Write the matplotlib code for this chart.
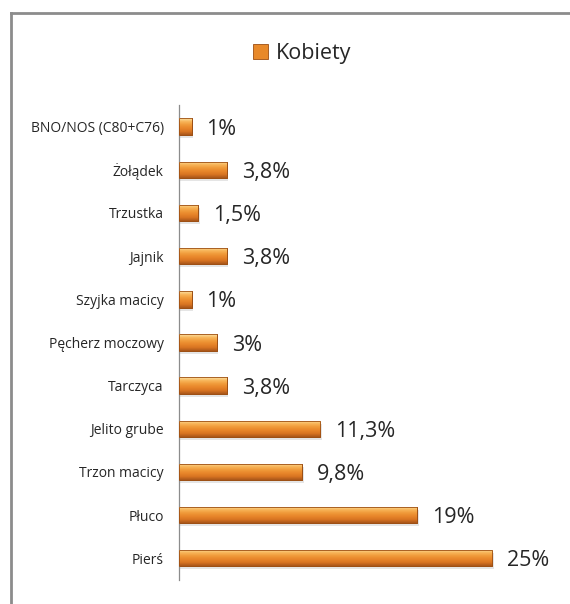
import numpy as np
import matplotlib
matplotlib.use("Agg")
import matplotlib.pyplot as plt
from matplotlib.colors import LinearSegmentedColormap
from matplotlib.lines import Line2D
from matplotlib.patches import Patch

# data (top to bottom as in the picture)
categories = ["BNO/NOS (C80+C76)", "Żołądek", "Trzustka", "Jajnik", "Szyjka macicy",
              "Pęcherz moczowy", "Tarczyca", "Jelito grube", "Trzon macicy", "Płuco", "Pierś"]
values = [1.0, 3.8, 1.5, 3.8, 1.0, 3.0, 3.8, 11.3, 9.8, 19.0, 25.0]
value_labels = ["1%", "3,8%", "1,5%", "3,8%", "1%", "3%", "3,8%", "11,3%", "9,8%", "19%", "25%"]
series_name = "Kobiety"

plt.rcParams["font.family"] = ["Open Sans", "DejaVu Sans"]

fig = plt.figure(figsize=(5.7, 6.04), dpi=100)
ax = fig.add_axes([0.314, 0.040, 0.659, 0.786])

y = np.arange(len(categories))[::-1]
bars = ax.barh(y, values, height=0.38, color="#E8892A", edgecolor="#9C4E12",
               linewidth=0.6, zorder=2)

# bevel-like gradient inside each bar (light at top, dark at bottom)
bevel = LinearSegmentedColormap.from_list(
    "bevel", ["#FDE3A6", "#F8B65A", "#F09A3A", "#E8862A", "#D87422", "#A9561A"])
grad = np.linspace(0, 1, 64).reshape(-1, 1)
for b in bars:
    x0, y0 = b.get_x(), b.get_y()
    w, h = b.get_width(), b.get_height()
    # soft shadow
    ax.barh(y0 + h / 2 - 0.07, w + 0.15, height=h, left=x0, color="#000000",
            alpha=0.10, linewidth=0, zorder=1)
    im = ax.imshow(grad, cmap=bevel, aspect="auto", zorder=3,
                   extent=(x0, x0 + w, y0, y0 + h), interpolation="bilinear")
    im.set_clip_path(b)
    ax.add_patch(plt.Rectangle((x0, y0), w, h, fill=False, edgecolor="#9C4E12",
                               linewidth=0.6, zorder=4))

for yi, v, lab in zip(y, values, value_labels):
    ax.text(v + 1.2, yi - 0.06, lab, va="center", ha="left", fontsize=15.5, color="#262626")

ax.set_xlim(0, 30)
ax.set_ylim(-0.5, 10.5)
ax.set_yticks(y)
ax.set_yticklabels(categories, fontsize=10, color="#262626")
ax.tick_params(axis="y", length=0, pad=11)
ax.set_xticks([])
for s in ["top", "right", "bottom"]:
    ax.spines[s].set_visible(False)
ax.spines["left"].set_color("#8C8C8C")
ax.spines["left"].set_linewidth(0.9)

handle = Patch(facecolor="#E8892A", edgecolor="#9C4E12", linewidth=0.6)
fig.legend([handle], [series_name], loc="center", bbox_to_anchor=(0.53, 0.911),
           frameon=False, fontsize=15.5, handlelength=0.7, handleheight=0.7,
           handletextpad=0.4, labelcolor="#262626")

# outer chart frame (only top and left edges visible)
fig.add_artist(Line2D([11 / 570, 1.0], [1 - 13 / 604, 1 - 13 / 604],
                      transform=fig.transFigure, color="#8C8C8C", linewidth=2))
fig.add_artist(Line2D([11 / 570, 11 / 570], [0.0, 1 - 13 / 604],
                      transform=fig.transFigure, color="#8C8C8C", linewidth=2))

fig.savefig("out.png", dpi=100)
